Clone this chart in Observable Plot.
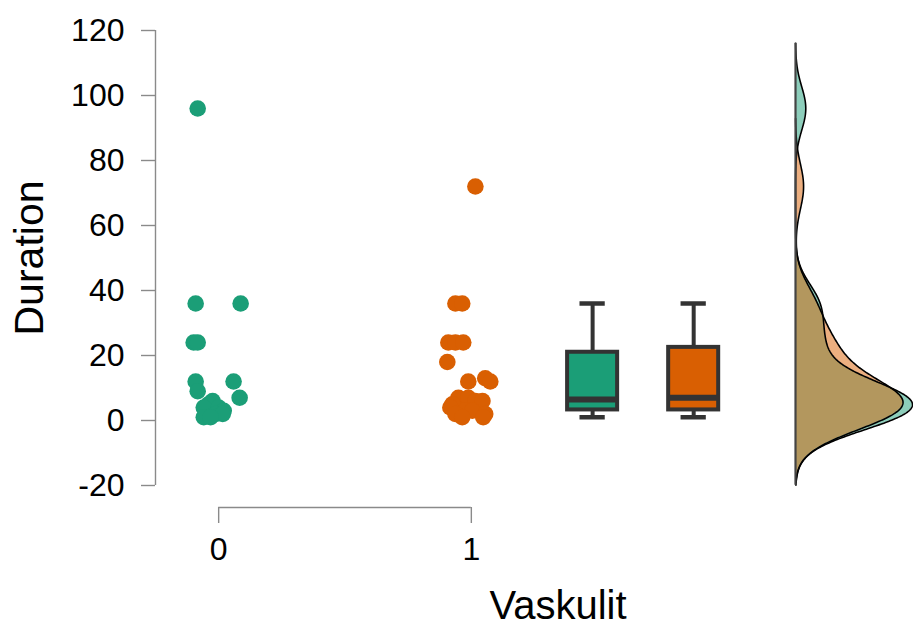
<!DOCTYPE html>
<html><head><meta charset="utf-8">
<script src="https://cdn.jsdelivr.net/npm/d3@7"></script>
<script src="https://cdn.jsdelivr.net/npm/@observablehq/plot@0.6"></script>
<style>html,body{margin:0;padding:0;background:#fff;} svg{display:block;}</style>
</head><body><div id="chart"></div>
<script>
// ---- data ----
const groups = ["0", "1"];
const groupColors = ["#1b9e77", "#d95f02"];
const yTicks = [-20, 0, 20, 40, 60, 80, 100, 120];
const xAxisTitle = "Vaskulit";
const yAxisTitle = "Duration";

const values0 = [96, 36, 36, 24, 24, 12, 9, 12, 7, 6, 5, 4, 4, 3, 2, 2, 1, 1];
const jitter0 = [-0.083, -0.091, 0.087, -0.099, -0.083, -0.091, -0.083, 0.059, 0.083, -0.024, -0.04, -0.059, 0, 0.02, -0.012, 0.016, -0.059, -0.032];
const values1 = [72, 36, 36, 24, 24, 24, 18, 12, 13, 12, 7, 7, 6, 6, 5, 4, 3, 3, 2, 2, 1, 1];
const jitter1 = [0.016, -0.063, -0.036, -0.091, -0.063, -0.032, -0.095, -0.012, 0.055, 0.075, -0.051, -0.012, 0.016, 0.044, -0.075, -0.083, -0.024, 0.004, 0.055, -0.063, 0.047, -0.036];

// ---- layout constants ----
const xDomain = [-0.25, 2.75];
const boxPos = [1.48, 1.88];
const boxHalf = 0.099, capHalf = 0.05;
const densBase = 2.283, densWidth = 0.463;

const allValues = [values0, values1];
const allJitter = [jitter0, jitter1];

const points = allValues.flatMap((vals, g) => vals.map((v, i) => ({x: g + allJitter[g][i], y: v, color: groupColors[g]})));

const boxStats = allValues.map((vals, i) => {
  const s = vals.slice().sort(d3.ascending);
  const q1 = d3.quantile(s, 0.25), med = d3.quantile(s, 0.5), q3 = d3.quantile(s, 0.75);
  const iqr = q3 - q1;
  const lo = d3.min(s.filter(v => v >= q1 - 1.5 * iqr));
  const hi = d3.max(s.filter(v => v <= q3 + 1.5 * iqr));
  return {x: boxPos[i], q1, med, q3, lo, hi, color: groupColors[i]};
});

function kde(vals, n = 512) {
  const s = vals.slice().sort(d3.ascending);
  const sd = d3.deviation(s);
  const iqr = d3.quantile(s, 0.75) - d3.quantile(s, 0.25);
  const h = 0.9 * Math.min(sd, iqr / 1.34) * Math.pow(s.length, -0.2);
  const lo = s[0] - 3 * h, hi = s[s.length - 1] + 3 * h;
  return d3.range(n).map(i => {
    const y = lo + (hi - lo) * i / (n - 1);
    const d = d3.mean(s, v => Math.exp(-0.5 * ((y - v) / h) ** 2)) / (h * Math.sqrt(2 * Math.PI));
    return {y, d};
  });
}
const dens = allValues.map(v => kde(v));
const maxD = d3.max(dens.flat(), d => d.d);
const gridMin = d3.min(dens.flat(), d => d.y), gridMax = d3.max(dens.flat(), d => d.y);
const dx = d => densBase + d.d / maxD * densWidth;

const font = "'Liberation Sans', Arial, Helvetica, sans-serif";

const chart = Plot.plot({
  width: 913, height: 630,
  marginLeft: 155, marginRight: 0, marginTop: 30, marginBottom: 123,
  insetBottom: 22,
  x: {domain: xDomain},
  y: {domain: [yTicks[0], yTicks[yTicks.length - 1]]},
  color: {type: "identity"},
  style: {fontFamily: font, background: "white", color: "black"},
  marks: [
    // axes
    Plot.axisY({ticks: yTicks, tickFormat: d => String(d), tickSize: 14, tickPadding: 17, fontSize: 32, label: null, stroke: "#8a8a8a", strokeWidth: 1.4, fill: "black"}),
    Plot.ruleX([xDomain[0]], {y1: () => yTicks[0], y2: () => yTicks[yTicks.length - 1], stroke: "#8a8a8a", strokeWidth: 1.4}),
    Plot.axisX({ticks: [0, 1], tickFormat: i => groups[i], tickSize: 16, tickPadding: 14, fontSize: 32, label: null, stroke: "#8a8a8a", strokeWidth: 1.4, fill: "black"}),
    Plot.ruleY([yTicks[0]], {x1: () => 0, x2: () => 1, dy: 22, stroke: "#8a8a8a", strokeWidth: 1.4}),
    Plot.text([yAxisTitle], {frameAnchor: "left", y: () => (yTicks[0] + yTicks[yTicks.length - 1]) / 2, rotate: -90, textAnchor: "middle", lineAnchor: "middle", fontSize: 41, dx: -126, fill: "black"}),
    Plot.text([xAxisTitle], {frameAnchor: "bottom", textAnchor: "middle", lineAnchor: "middle", fontSize: 40, dx: 23.5, dy: 99, fill: "black"}),
    // points
    Plot.dot(points, {x: "x", y: "y", r: 8.3, fill: "color", stroke: null}),
    // boxes
    Plot.ruleX(boxStats, {x: "x", y1: "lo", y2: "hi", stroke: "#333", strokeWidth: 4}),
    Plot.rect(boxStats, {x1: d => d.x - boxHalf, x2: d => d.x + boxHalf, y1: "q1", y2: "q3", fill: "color", stroke: "#333", strokeWidth: 4}),
    Plot.ruleY(boxStats, {y: "med", x1: d => d.x - boxHalf, x2: d => d.x + boxHalf, stroke: "#333", strokeWidth: 6}),
    Plot.ruleY(boxStats, {y: "hi", x1: d => d.x - capHalf, x2: d => d.x + capHalf, stroke: "#333", strokeWidth: 4.5}),
    Plot.ruleY(boxStats, {y: "lo", x1: d => d.x - capHalf, x2: d => d.x + capHalf, stroke: "#333", strokeWidth: 4.5}),
    // densities
    Plot.areaX(dens[0], {y: "y", x1: () => densBase, x2: dx, fill: groupColors[0], fillOpacity: 0.5}),
    Plot.areaX(dens[1], {y: "y", x1: () => densBase, x2: dx, fill: groupColors[1], fillOpacity: 0.5}),
    Plot.lineX(dens[0], {y: "y", x: dx, stroke: "black", strokeWidth: 1.6}),
    Plot.lineX(dens[1], {y: "y", x: dx, stroke: "black", strokeWidth: 1.6}),
    Plot.ruleX([densBase], {y1: () => gridMin, y2: () => gridMax, stroke: "#444", strokeWidth: 2.2})
  ]
});
document.getElementById("chart").appendChild(chart);
</script>
</body></html>
